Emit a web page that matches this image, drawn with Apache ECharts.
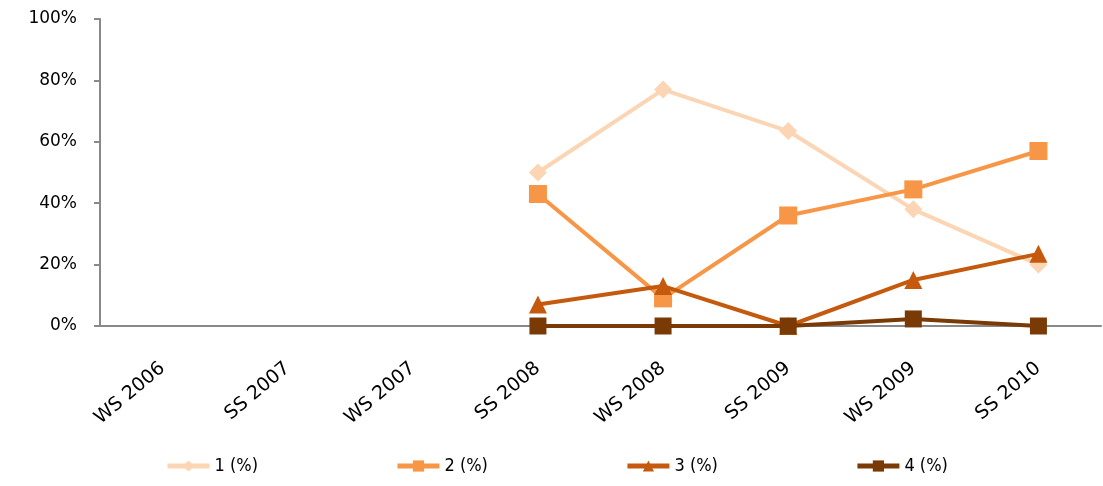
<!DOCTYPE html>
<html><head><meta charset="utf-8">
<script src="https://cdn.jsdelivr.net/npm/echarts@6/dist/echarts.min.js"></script>
<style>html,body{margin:0;padding:0;background:#fff}#c{width:1103px;height:486px}</style>
</head><body><div id="c"></div>
<script>
var categories = ['WS 2006','SS 2007','WS 2007','SS 2008','WS 2008','SS 2009','WS 2009','SS 2010'];
var s1 = [null,null,null,50,77,63.5,38,20];
var s2 = [null,null,null,43,9,36,44.5,57];
var s3 = [null,null,null,7,13,0,15,23.5];
var s4 = [null,null,null,0,0,0,2.3,0];
var names = ['1 (%)','2 (%)','3 (%)','4 (%)'];
var colors = ['#FCD5B4','#F79646','#C55A0E','#7A3A06'];
var symbols = ['diamond','rect','triangle','rect'];
var sizes = [18,18,18,17];
var all = [s1,s2,s3,s4];
var chart = echarts.init(document.getElementById('c'));
chart.setOption({
  animation:false,
  color:colors,
  grid:{left:100,right:2,top:19,bottom:160,containLabel:false},
  legend:{bottom:6,left:160,itemWidth:42,itemHeight:14,itemGap:137,
    lineStyle:{width:5},
    textStyle:{fontFamily:'DejaVu Sans Condensed',fontSize:18,color:'#000'},
    data:names},
  xAxis:{type:'category',data:categories,boundaryGap:true,
    axisLine:{lineStyle:{color:'#898989',width:2}},axisTick:{show:false},
    axisLabel:{rotate:40,interval:0,fontFamily:'DejaVu Sans',fontSize:19,color:'#000',margin:40}},
  yAxis:{type:'value',min:0,max:100,interval:20,
    axisLine:{show:true,lineStyle:{color:'#898989',width:2}},
    axisTick:{show:true,length:6,lineStyle:{color:'#898989',width:2}},
    splitLine:{show:false},
    axisLabel:{formatter:'{value}%',fontFamily:'DejaVu Sans',fontSize:17,color:'#000',margin:23}},
  series:all.map(function(d,i){return {
    name:names[i],type:'line',data:d,symbol:symbols[i],symbolSize:sizes[i],
    lineStyle:{width:4,color:colors[i]},itemStyle:{color:colors[i]},connectNulls:false,z:2+i
  };})
});
</script></body></html>
